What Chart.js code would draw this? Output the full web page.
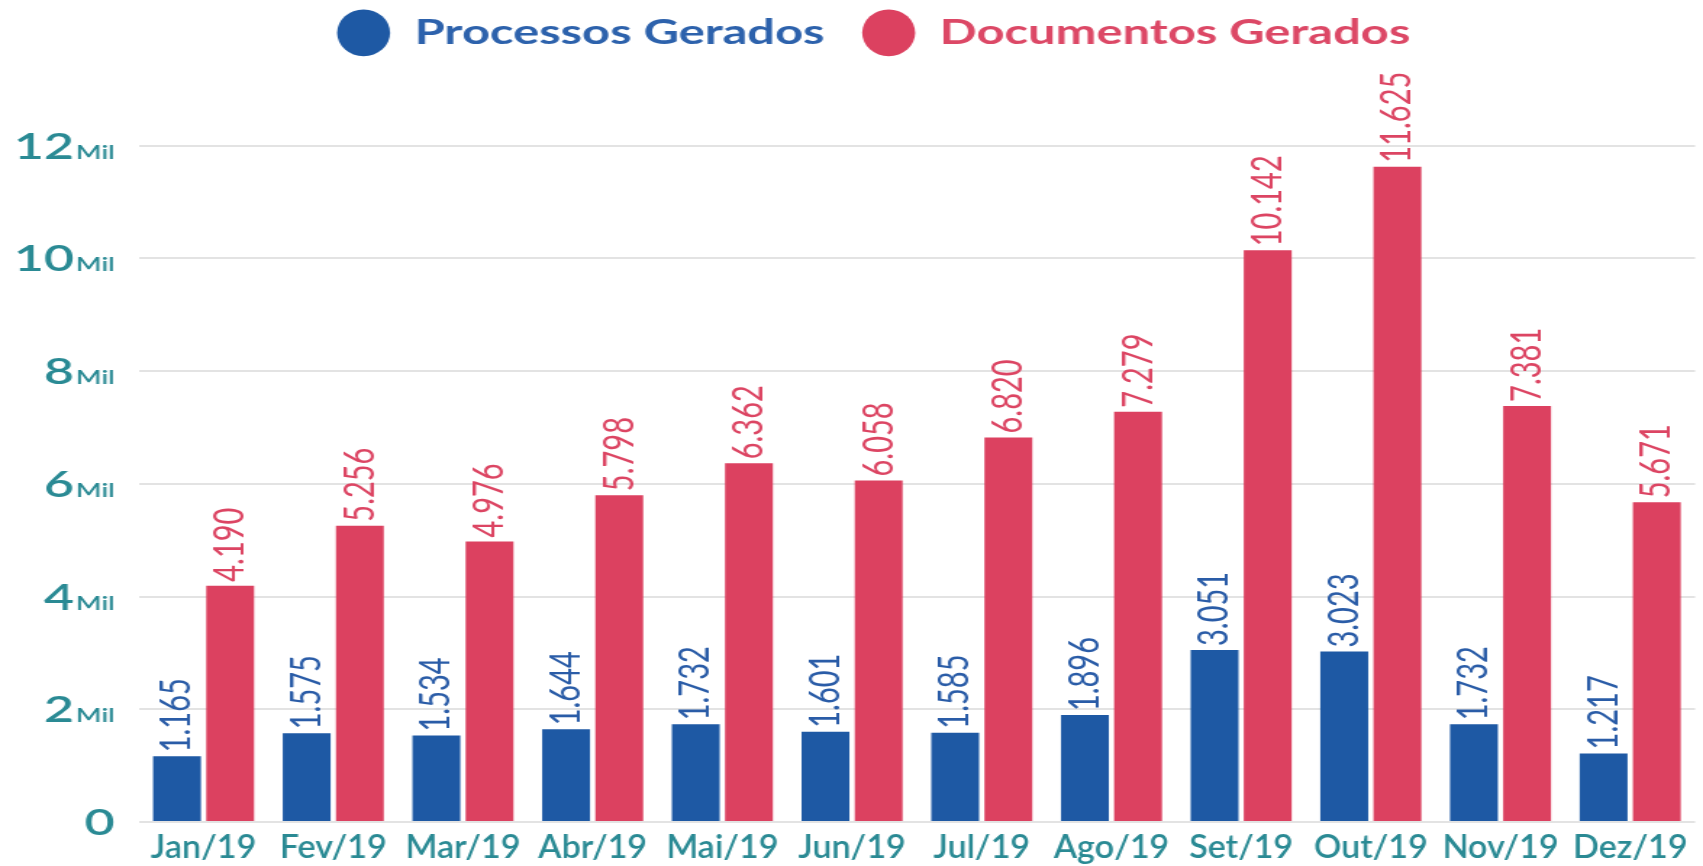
<!DOCTYPE html>
<html>
<head>
<meta charset="utf-8">
<script src="https://cdn.jsdelivr.net/npm/chart.js@4.4.1/dist/chart.umd.min.js"></script>
<style>
  html, body { margin: 0; padding: 0; background: #ffffff; overflow: hidden; }
  #wrap { width: 1703px; height: 866px; overflow: hidden; }
  /* the drawing is widened horizontally to fill the page */
  #c { display: block; transform: scaleX(1.4494); transform-origin: 0 0; }
</style>
</head>
<body>
<div id="wrap"><canvas id="c" width="1175" height="866"></canvas></div>
<script>
// Monthly totals for 2019
const meses = ['Jan/19', 'Fev/19', 'Mar/19', 'Abr/19', 'Mai/19', 'Jun/19',
               'Jul/19', 'Ago/19', 'Set/19', 'Out/19', 'Nov/19', 'Dez/19'];
const processosGerados = [1165, 1575, 1534, 1644, 1732, 1601, 1585, 1896, 3051, 3023, 1732, 1217];
const documentosGerados = [4190, 5256, 4976, 5798, 6362, 6058, 6820, 7279, 10142, 11625, 7381, 5671];
const yTickValues = [0, 2000, 4000, 6000, 8000, 10000, 12000];
const yTickSuffix = 'Mil';

const seriesNames = ['Processos Gerados', 'Documentos Gerados'];
const barColors = ['#1e59a4', '#dc4160'];
const valueColors = ['#2a5ca7', '#dc4563'];
const legendTextColors = ['#2d62ac', '#dc4866'];
const axisColor = '#2a8a94';
const gridColor = '#e3e3e3';

// 4190 -> "4.190"
function fmt(v) {
  return String(v).replace(/\B(?=(\d{3})+(?!\d))/g, '.');
}

// vertical value labels above every bar
const valueLabels = {
  id: 'valueLabels',
  afterDatasetsDraw(chart) {
    const ctx = chart.ctx;
    chart.data.datasets.forEach((ds, i) => {
      const meta = chart.getDatasetMeta(i);
      meta.data.forEach((bar, j) => {
        ctx.save();
        ctx.translate(bar.x, bar.y - 4);
        ctx.rotate(-Math.PI / 2);
        ctx.textAlign = 'left';
        ctx.textBaseline = 'middle';
        ctx.fillStyle = valueColors[i];
        ctx.font = '29px Lato';
        ctx.fillText(fmt(ds.data[j]), 0, 0);
        ctx.restore();
      });
    });
  }
};

// axis labels: y values with a small "Mil" suffix, and narrow month names
const axisLabels = {
  id: 'axisLabels',
  afterDraw(chart) {
    const ctx = chart.ctx;
    const ys = chart.scales.y;
    const xs = chart.scales.x;
    const xR = chart.chartArea.left - 16.5;
    ctx.save();
    ctx.fillStyle = axisColor;
    ctx.textAlign = 'right';
    ctx.textBaseline = 'alphabetic';
    ys.ticks.forEach(t => {
      const y = ys.getPixelForValue(t.value) + 13;
      if (t.value === 0) {
        ctx.font = '600 36px Lato';
        ctx.fillText('0', xR, y);
      } else {
        ctx.font = '600 19px Lato';
        const w = ctx.measureText(yTickSuffix).width;
        ctx.fillText(yTickSuffix, xR, y);
        ctx.font = '600 36px Lato';
        ctx.fillText(String(t.value / 1000), xR - w - 1, y);
      }
    });
    ctx.textAlign = 'center';
    ctx.font = '600 32px Lato';
    const baseY = chart.chartArea.bottom + 36;
    meses.forEach((m, i) => {
      ctx.save();
      ctx.translate(xs.getPixelForTick(i), baseY);
      ctx.scale(0.735, 1);
      ctx.fillText(m, 0, 0);
      ctx.restore();
    });
    ctx.restore();
  }
};

// extra room between the legend and the plot
const legendGap = {
  id: 'legendGap',
  beforeLayout(chart) {
    const lg = chart.legend;
    if (lg && !lg._gapWrapped) {
      const fit = lg.fit;
      lg.fit = function () { fit.call(this); this.height += 85.8; };
      lg._gapWrapped = true;
    }
  }
};

new Chart(document.getElementById('c'), {
  type: 'bar',
  data: {
    labels: meses,
    datasets: [
      { label: seriesNames[0], data: processosGerados, backgroundColor: barColors[0],
        categoryPercentage: 0.82, barPercentage: 0.9 },
      { label: seriesNames[1], data: documentosGerados, backgroundColor: barColors[1],
        categoryPercentage: 0.82, barPercentage: 0.9 }
    ]
  },
  options: {
    responsive: false,
    animation: false,
    devicePixelRatio: 1,
    layout: { padding: { left: 36, right: 5.5, top: -10, bottom: 44 } },
    plugins: {
      tooltip: { enabled: false },
      legend: {
        position: 'top',
        labels: {
          usePointStyle: true,
          pointStyle: 'circle',
          pointStyleWidth: 36.6,
          boxHeight: 33,
          padding: 26,
          font: { family: 'Lato', size: 33.7, weight: 'bold' },
          generateLabels(chart) {
            const items = Chart.defaults.plugins.legend.labels.generateLabels(chart);
            items.forEach((it, i) => {
              it.fontColor = legendTextColors[i];
              it.lineWidth = 0;
              it.strokeStyle = 'rgba(0,0,0,0)';
            });
            return items;
          }
        }
      }
    },
    scales: {
      x: {
        grid: { display: false, drawTicks: false },
        border: { display: false },
        ticks: { display: false }
      },
      y: {
        min: 0,
        max: 12000,
        afterBuildTicks(axis) { axis.ticks = yTickValues.map(v => ({ value: v })); },
        afterFit(axis) { axis.width = 59.7; },
        grid: { color: gridColor, lineWidth: 2, drawTicks: false },
        border: { display: false },
        ticks: { display: false }
      }
    }
  },
  plugins: [valueLabels, axisLabels, legendGap]
});
</script>
</body>
</html>
